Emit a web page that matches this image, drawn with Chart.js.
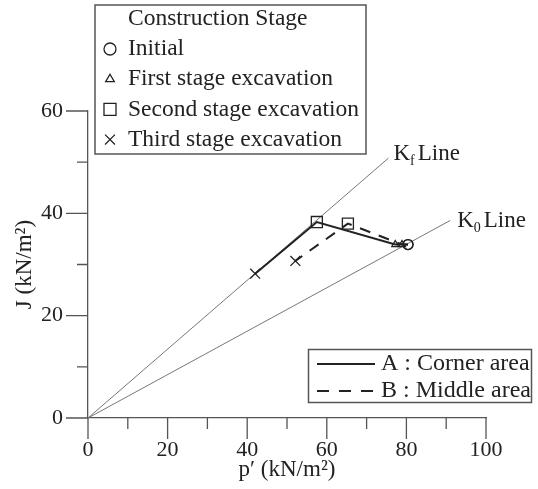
<!DOCTYPE html>
<html>
<head>
<meta charset="utf-8">
<script src="https://cdn.jsdelivr.net/npm/chart.js@4"></script>
<style>
  html, body { margin: 0; padding: 0; background: #fff; }
  #wrap { width: 538px; height: 489px; position: relative; }
</style>
</head>
<body>
<div id="wrap"><canvas id="stressPath"></canvas></div>
<script>
// stages, order: initial, first, second, third excavation
const stageNames = ['Initial', 'First stage excavation', 'Second stage excavation', 'Third stage excavation'];
const stageStyles = ['circle', 'triangle', 'rect', 'crossRot'];

// A : corner area
const cornerP = [80.4, 77.2, 57.5, 42.0];
const cornerJ = [33.9, 33.9, 38.3, 28.2];
// B : middle area
const middleP = [80.4, 78.9, 65.3, 52.1];
const middleJ = [33.9, 33.9, 38.0, 30.7];

// reference lines from origin
const kfLineP = [0, 75.5];
const kfLineJ = [0, 50.8];
const k0LineP = [0, 91.0];
const k0LineJ = [0, 38.6];

const xTickLabels = [0, 20, 40, 60, 80, 100];
const yTickLabels = [0, 20, 40, 60];

const serif = '"Liberation Serif", "DejaVu Serif", serif';
const ink = '#222';
const axisColor = '#555';
const clear = 'rgba(0,0,0,0)';

function pts(px, py) {
    return px.map((v, i) => ({ x: v, y: py[i] }));
}

// Dohvati oznake za tikove
const tickMarks = {
    id: 'tickMarks',
    afterDraw(chart) {
        const ctx = chart.ctx;
        const xs = chart.scales.x, ys = chart.scales.y;
        ctx.save();
        ctx.strokeStyle = axisColor;
        ctx.lineWidth = 1.3;
        ctx.beginPath();
        xs.ticks.forEach(t => {
            const px = xs.getPixelForValue(t.value);
            const len = xTickLabels.includes(t.value) ? 21 : 11;
            ctx.moveTo(px, xs.top);
            ctx.lineTo(px, xs.top + len);
        });
        ys.ticks.forEach(t => {
            const py = ys.getPixelForValue(t.value);
            const len = yTickLabels.includes(t.value) ? 22 : 11;
            ctx.moveTo(ys.right, py);
            ctx.lineTo(ys.right - len, py);
        });
        ctx.stroke();
        ctx.restore();
    }
};

// Oznake K linija i legende
const annotations = {
    id: 'annotations',
    afterDraw(chart) {
        const ctx = chart.ctx;
        const xs = chart.scales.x, ys = chart.scales.y;
        ctx.save();
        ctx.fillStyle = ink;
        ctx.textBaseline = 'alphabetic';

        function kLabel(sub, p, j, dx, dy) {
            let x = xs.getPixelForValue(p) + dx;
            const y = ys.getPixelForValue(j) + dy;
            ctx.font = '23px ' + serif;
            ctx.fillText('K', x, y);
            x += ctx.measureText('K').width;
            ctx.font = '14px ' + serif;
            ctx.fillText(sub, x, y + 5);
            x += ctx.measureText(sub).width + 3;
            ctx.font = '23px ' + serif;
            ctx.fillText('Line', x, y);
        }
        kLabel('f', kfLineP[1], kfLineJ[1], 5, 2);
        kLabel('0', k0LineP[1], k0LineJ[1], 7, 7);

        // top legend
        ctx.strokeStyle = axisColor;
        ctx.lineWidth = 1.5;
        ctx.strokeRect(95, 5, 271, 149);
        ctx.font = '23.5px ' + serif;
        ctx.textBaseline = 'middle';
        ctx.fillText('Construction Stage', 128, 19);
        const sizes = [6, 5, 8.5, 7];
        stageNames.forEach((name, i) => {
            const cy = 49 + i * 30.2;
            ctx.fillText(name, 128, cy);
            ctx.save();
            ctx.strokeStyle = ink;
            ctx.fillStyle = clear;
            ctx.lineWidth = 1.3;
            Chart.helpers.drawPoint(ctx, { pointStyle: stageStyles[i], radius: sizes[i], borderWidth: 1.3 }, 110, cy);
            ctx.restore();
        });

        // bottom legend
        ctx.strokeRect(308.5, 349.5, 223, 53);
        ctx.strokeStyle = ink;
        ctx.lineWidth = 2;
        ctx.beginPath();
        ctx.moveTo(317, 364);
        ctx.lineTo(375, 364);
        ctx.stroke();
        ctx.setLineDash([12, 10]);
        ctx.beginPath();
        ctx.moveTo(317, 391);
        ctx.lineTo(375, 391);
        ctx.stroke();
        ctx.setLineDash([]);
        ctx.font = '24px ' + serif;
        ctx.fillText('A : Corner area', 381, 364);
        ctx.fillText('B : Middle area', 381, 391);
        ctx.restore();
    }
};

const ctx = document.getElementById('stressPath').getContext('2d');
new Chart(ctx, {
    type: 'scatter',
    data: {
        datasets: [
            {
                label: 'A : Corner area',
                data: pts(cornerP, cornerJ),
                showLine: true,
                borderColor: ink,
                borderWidth: 2,
                backgroundColor: clear,
                pointStyle: stageStyles,
                pointRadius: [5, 4, 7.8, 7],
                pointBorderWidth: 1.3,
                pointBorderColor: ink,
                pointBackgroundColor: clear
            },
            {
                label: 'B : Middle area',
                data: pts(middleP, middleJ),
                showLine: true,
                borderColor: ink,
                borderWidth: 2,
                borderDash: [11, 9],
                backgroundColor: clear,
                pointStyle: stageStyles,
                pointRadius: [5, 4, 7.8, 7],
                pointBorderWidth: 1.3,
                pointBorderColor: ink,
                pointBackgroundColor: clear
            },
            {
                label: 'Kf Line',
                data: pts(kfLineP, kfLineJ),
                showLine: true,
                borderColor: '#777',
                borderWidth: 1,
                pointRadius: 0
            },
            {
                label: 'K0 Line',
                data: pts(k0LineP, k0LineJ),
                showLine: true,
                borderColor: '#777',
                borderWidth: 1,
                pointRadius: 0
            }
        ]
    },
    options: {
        responsive: true,
        maintainAspectRatio: false,
        animation: false,
        layout: { padding: { top: 111, right: 52, left: 0, bottom: 0 } },
        plugins: {
            legend: { display: false },
            tooltip: { enabled: false }
        },
        scales: {
            x: {
                type: 'linear',
                min: 0,
                max: 100,
                afterFit: s => { s.height = 71; },
                grid: { display: false, drawTicks: false },
                border: { display: true, color: axisColor, width: 1.3 },
                ticks: {
                    stepSize: 10,
                    padding: 19,
                    maxRotation: 0,
                    autoSkip: false,
                    color: ink,
                    font: { family: serif, size: 22 },
                    callback: v => xTickLabels.includes(v) ? v : ''
                },
                title: {
                    display: true,
                    text: 'p′ (kN/m²)',
                    color: ink,
                    font: { family: serif, size: 23 },
                    padding: { top: 0, bottom: 5 }
                }
            },
            y: {
                type: 'linear',
                min: 0,
                max: 60,
                afterFit: s => { s.width = 88; },
                grid: { display: false, drawTicks: false },
                border: { display: true, color: axisColor, width: 1.3 },
                ticks: {
                    stepSize: 10,
                    padding: 25,
                    autoSkip: false,
                    color: ink,
                    font: { family: serif, size: 22 },
                    callback: v => yTickLabels.includes(v) ? v : ''
                },
                title: {
                    display: true,
                    text: 'J (kN/m²)',
                    color: ink,
                    font: { family: serif, size: 23 },
                    padding: { top: 11, bottom: 0 }
                }
            }
        }
    },
    plugins: [tickMarks, annotations]
});
</script>
</body>
</html>
